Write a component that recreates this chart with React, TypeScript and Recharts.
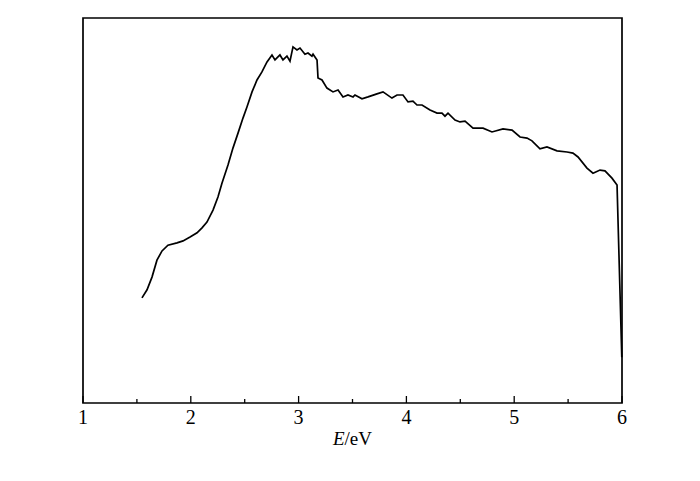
import React from "react";
import { LineChart, Line, XAxis, YAxis, ReferenceArea } from "recharts";

const energies = [
  1.547, 1.594, 1.64, 1.686, 1.733, 1.788, 1.872, 1.928, 1.993, 2.058, 2.104, 2.15, 2.206, 2.252, 2.289,
  2.345, 2.391, 2.438, 2.484, 2.521, 2.568, 2.614, 2.66, 2.707, 2.753, 2.781, 2.827, 2.855, 2.892, 2.92,
  2.948, 2.985, 3.013, 3.059, 3.087, 3.124, 3.134, 3.171, 3.18, 3.217, 3.263, 3.319, 3.366, 3.412, 3.458,
  3.505, 3.523, 3.588, 3.644, 3.727, 3.783, 3.866, 3.913, 3.968, 4.015, 4.061, 4.098, 4.145, 4.219, 4.284,
  4.33, 4.358, 4.386, 4.451, 4.497, 4.544, 4.618, 4.711, 4.794, 4.896, 4.98, 5.054, 5.119, 5.165, 5.239,
  5.304, 5.397, 5.49, 5.545, 5.592, 5.675, 5.731, 5.796, 5.842, 5.907, 5.954, 5.998,
];
const intensities = [
  27.3, 29.4, 32.7, 37.1, 39.5, 41.0, 41.6, 42.1, 43.1, 44.2, 45.5, 47.0, 50.1, 53.5, 57.1,
  61.8, 66.2, 70.1, 74.0, 76.9, 80.8, 83.9, 86.0, 88.6, 90.4, 89.1, 90.4, 89.1, 90.1, 88.8,
  92.5, 91.7, 92.2, 90.6, 90.9, 90.1, 90.6, 89.1, 84.4, 83.9, 81.8, 80.8, 81.3, 79.5, 80.0,
  79.5, 80.0, 79.0, 79.5, 80.3, 80.8, 79.2, 80.0, 80.0, 78.2, 78.4, 77.4, 77.4, 76.1, 75.3,
  75.3, 74.5, 75.3, 73.5, 73.0, 73.2, 71.4, 71.4, 70.4, 71.2, 70.9, 69.1, 68.8, 68.1, 66.0,
  66.5, 65.5, 65.2, 64.9, 63.9, 61.0, 59.7, 60.5, 60.3, 58.4, 56.6, 11.9,
];
const xTicks = [1, 1.5, 2, 2.5, 3, 3.5, 4, 4.5, 5, 5.5, 6];

const data = energies.map((e, i) => ({ e, v: intensities[i] }));

const FONT = "'Times New Roman', 'Liberation Serif', serif";

const BottomTick = (props: any) => {
  const { x, y, payload } = props;
  const v = payload.value as number;
  const major = Number.isInteger(v);
  return (
    <g>
      <line x1={x} x2={x} y1={y} y2={y - (major ? 7 : 4)} stroke="#000" strokeWidth={1.3} />
      {major && (
        <text x={x} y={y + 21} textAnchor="middle" style={{ fontFamily: FONT, fontSize: 20 }} fill="#000">
          {v}
        </text>
      )}
    </g>
  );
};

export default function App() {
  return (
    <div style={{ position: "absolute", left: 0, top: 0, background: "#fff" }}>
      <LineChart
        width={700}
        height={481}
        data={data}
        margin={{ top: 18, right: 78, bottom: 48, left: 83 }}
      >
        <XAxis
          dataKey="e"
          type="number"
          domain={[1, 6]}
          ticks={xTicks}
          interval={0}
          height={30}
          tickSize={0}
          tickMargin={0}
          tickLine={false}
          tick={<BottomTick />}
          axisLine={false}
          label={{
            value: "E/eV",
            position: "bottom",
            offset: 0,
            content: (p: any) => {
              const vb = p.viewBox;
              const cx = vb.x + vb.width / 2;
              return (
                <text x={cx} y={vb.y + 42} textAnchor="middle" style={{ fontFamily: FONT, fontSize: 19 }} fill="#000">
                  <tspan fontStyle="italic">E</tspan>
                  <tspan>/eV</tspan>
                </text>
              );
            },
          }}
        />
        <YAxis type="number" domain={[0, 100]} hide />
        <ReferenceArea
          x1={1}
          x2={6}
          y1={0}
          y2={100}
          fill="none"
          fillOpacity={0}
          stroke="#000"
          strokeWidth={1.7}
          ifOverflow="visible"
        />
        <Line
          dataKey="v"
          type="linear"
          stroke="#000"
          strokeWidth={1.7}
          dot={false}
          isAnimationActive={false}
        />
      </LineChart>
    </div>
  );
}
